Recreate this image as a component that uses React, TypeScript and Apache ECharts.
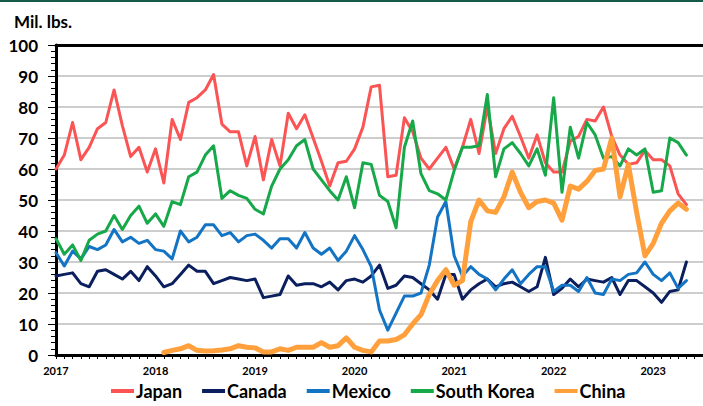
import React, { useEffect, useRef } from "react";
import * as echarts from "echarts";

const years = ["2017", "2018", "2019", "2020", "2021", "2022", "2023"];
const monthNames = ["01", "02", "03", "04", "05", "06", "07", "08", "09", "10", "11", "12"];
const categoryCount = 79; // Jan 2017 .. Jul 2023 (axis extent)

const seriesNames = ["Japan", "Canada", "Mexico", "South Korea", "China"];

// Monthly values, Jan 2017 .. May 2023 (Mil. lbs.)
const japan = [
  60, 64.5, 75, 63, 67, 73, 75, 85.5, 74, 64, 67, 59,
  66.5, 55.5, 76, 69.5, 81.5, 83, 85.5, 90.5, 74.5, 72, 72, 61,
  70.5, 56.5, 69.5, 61, 78, 73, 77.5, 70, 62.5, 54.5, 62, 62.5,
  66.5, 73.5, 86.5, 87, 57.5, 58, 76.5, 72, 63.5, 60, 63.5, 67,
  60, 67, 76, 65, 80, 65, 73, 77, 70.5, 63.5, 71, 62,
  59, 59, 69, 70.5, 76, 75.5, 80, 70.5, 64.5, 61.5, 62, 66,
  63, 63, 61, 52, 48.5,
];
const canada = [
  25.5, 26, 26.5, 23, 22, 27, 27.5, 26, 24.5, 27, 24, 28.5,
  25.5, 22, 23, 26, 29, 27, 27, 23, 24, 25, 24.5, 24,
  24.5, 18.5, 19, 19.5, 25.5, 22.5, 23, 23, 22, 23.5, 21, 24,
  24.5, 23.5, 25.5, 29, 21.5, 22.5, 25.5, 25, 23, 21, 18, 26,
  26, 18, 21, 23, 24.5, 22, 23, 23.5, 22, 20.5, 22, 31.5,
  19.5, 21.5, 24.5, 22, 24.5, 24, 23.5, 25, 19.5, 24, 24, 22,
  20, 17, 20.5, 21, 30,
];
const mexico = [
  33, 28.7, 33.5, 31, 35, 34, 35.5, 40.5, 36.5, 38, 36, 37,
  34, 33.5, 31, 40, 36.5, 38, 42, 42, 38.5, 39.5, 36.5, 38.5,
  39, 37, 34.5, 37.5, 37.5, 34.5, 39.5, 34.5, 32.5, 34.5, 30.5, 33.5,
  38.5, 34, 28.5, 14.5, 8, 13.5, 19, 19, 20, 29, 44.5, 49.5,
  32, 25.5, 28.5, 26, 24.5, 21, 24.5, 27.5, 23, 26, 28.5, 28.5,
  20.5, 22.5, 22.5, 20.5, 25, 20, 19.5, 24.5, 24, 26, 26.5, 30,
  26, 24, 26.5, 21.5, 24,
];
const southKorea = [
  37.5, 32.5, 35.5, 30.5, 37, 39, 40, 45, 40.5, 45, 48, 42.5,
  45.5, 41.5, 49.5, 48.5, 57.5, 59, 64.5, 67.5, 50.5, 53, 51.5, 50.5,
  47, 45.5, 54.5, 60, 63, 67.5, 69.5, 60, 56.5, 53, 50, 57.5,
  47.5, 62, 61.5, 51.5, 49.5, 41, 67, 75.5, 58.5, 53, 52, 50,
  59.5, 67, 67, 67.5, 84, 57.5, 66.5, 68.5, 65, 61, 66.5, 58,
  83, 52.5, 73.5, 63.5, 75, 71, 63.5, 64, 61, 66.5, 64.5, 66.5,
  52.5, 53, 70, 68.5, 64.5,
];
const china = [
  null, null, null, null, null, null, null, null, null, null, null, null,
  null, 0.8, 1.5, 2, 3, 1.5, 1.3, 1.4, 1.6, 2, 3, 2.5,
  2.3, 1, 1, 2, 1.5, 2.5, 2.5, 2.5, 4, 2.5, 3, 5.5,
  2.5, 1.5, 1, 4.5, 4.5, 5, 6.5, 10, 13, 19.5, 24, 27.5,
  22.5, 24, 43, 50, 46.5, 46, 51, 59, 52.5, 47.5, 49.5, 50,
  49, 43.5, 54.5, 53.5, 56, 59.5, 60, 70, 51, 61.5, 46, 32,
  36, 42.5, 46.5, 49, 47,
];

const colors = ["#fa5454", "#0b1f5e", "#1474c4", "#17a84a", "#ffa03c"];
const widths = [3, 3, 3, 3, 5];

const categories: string[] = [];
years.forEach((y) => monthNames.forEach((m) => categories.push(`${y}-${m}`)));
const axisCategories = categories.slice(0, categoryCount);

const FONT = "Lato";

export default function App() {
  const ref = useRef<HTMLDivElement>(null);
  useEffect(() => {
    if (!ref.current) return;
    const chart = echarts.init(ref.current, undefined, { renderer: "svg" });
    const datasets = [japan, canada, mexico, southKorea, china];
    chart.setOption({
      animation: false,
      backgroundColor: "#ffffff",
      textStyle: { fontFamily: FONT },
      title: {
        text: "Mil. lbs.",
        left: 9,
        top: 8,
        textStyle: { fontFamily: FONT, fontSize: 17, fontWeight: "bold", color: "#000" },
      },
      graphic: [
        { type: "rect", left: 0, top: 0, shape: { x: 0, y: 0, width: 703, height: 2 }, style: { fill: "#15594a" } },
      ],
      legend: {
        left: 111,
        top: 381,
        padding: 0,
        itemWidth: 23,
        itemHeight: 4,
        itemGap: 20,
        icon: "rect",
        textStyle: {
          fontFamily: FONT,
          fontSize: 18,
          lineHeight: 20,
          fontWeight: "bold",
          color: "#000",
          padding: [0, 0, 0, -3],
        },
        data: seriesNames,
      },
      grid: { left: 56, top: 45, right: -2, bottom: 51, containLabel: false },
      xAxis: [
        {
          type: "category",
          data: axisCategories,
          boundaryGap: false,
          axisLine: { show: true, lineStyle: { color: "#000", width: 3 } },
          axisTick: { show: true, interval: 0, length: 4, lineStyle: { color: "#000", width: 1 } },
          axisLabel: {
            interval: (i: number) => i % 12 === 0,
            formatter: (v: string) => v.slice(0, 4),
            fontFamily: FONT,
            fontSize: 11,
            fontWeight: "bold",
            color: "#000",
            margin: 10,
          },
          splitLine: { show: false },
        },
        {
          type: "category",
          data: axisCategories,
          boundaryGap: false,
          position: "top",
          axisLine: { show: true, lineStyle: { color: "#000", width: 3 } },
          axisTick: { show: false },
          axisLabel: { show: false },
          splitLine: { show: false },
        },
      ],
      yAxis: {
        type: "value",
        min: 0,
        max: 100,
        interval: 10,
        axisLine: { show: true, lineStyle: { color: "#000", width: 3 } },
        axisTick: { show: true, length: 8, lineStyle: { color: "#000", width: 1 } },
        minorTick: { show: true, splitNumber: 5, length: 5, lineStyle: { color: "#000", width: 1 } },
        axisLabel: { fontFamily: FONT, fontSize: 17, fontWeight: "bold", color: "#000", margin: 18 },
        splitLine: { show: true, lineStyle: { color: "#bdbdbd", width: 1.5 } },
      },
      series: seriesNames.map((name, i) => ({
        name,
        type: "line",
        xAxisIndex: 0,
        data: datasets[i],
        symbol: "none",
        color: colors[i],
        lineStyle: { color: colors[i], width: widths[i], cap: "round", join: "round" },
        z: 2 + i,
      })),
    });
    return () => chart.dispose();
  }, []);
  return (
    <div
      ref={ref}
      style={{ position: "absolute", left: 0, top: 0, width: 703, height: 406 }}
    />
  );
}
